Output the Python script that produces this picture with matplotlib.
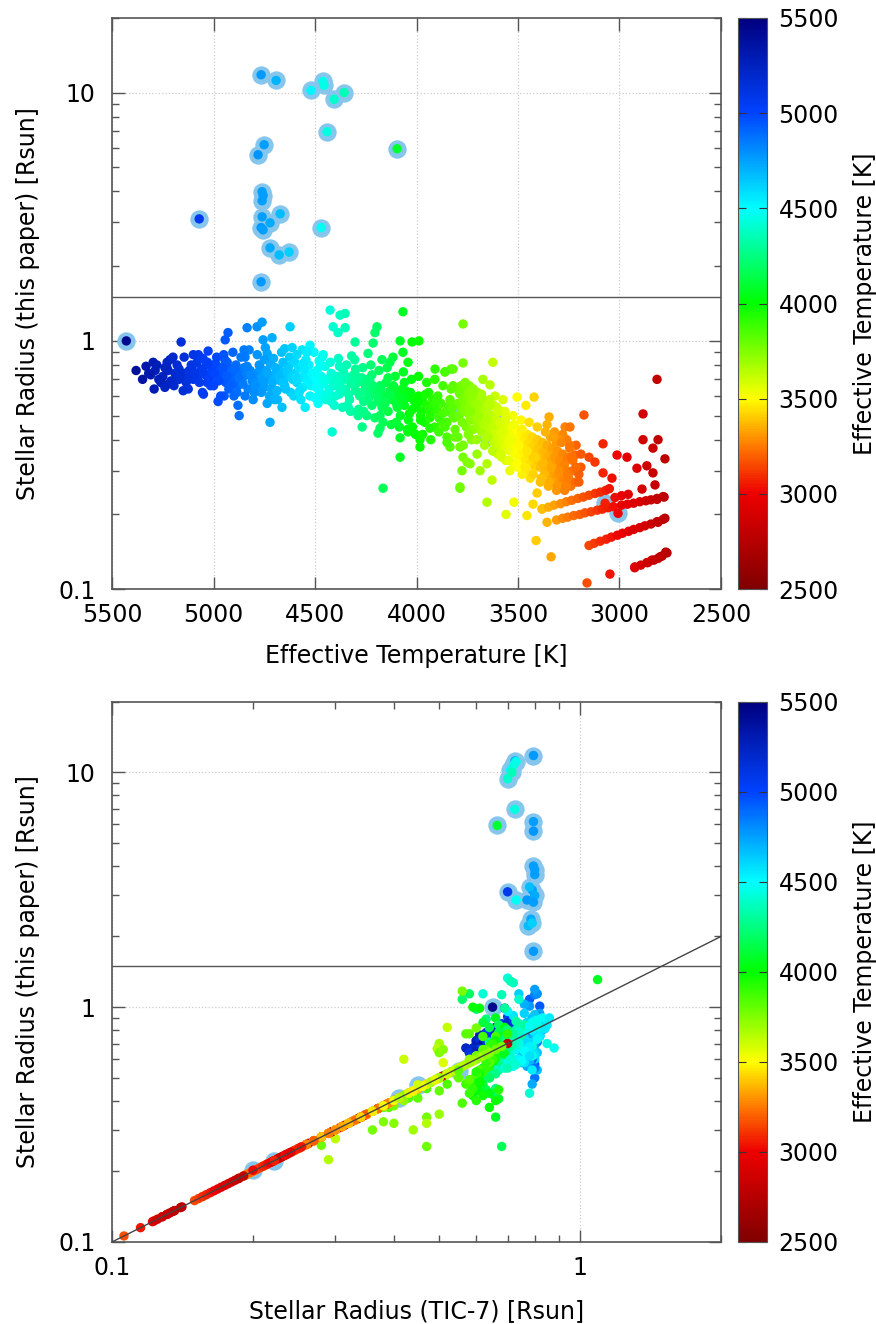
import numpy as np
import matplotlib
matplotlib.use("Agg")
import matplotlib.pyplot as plt
from matplotlib.colors import Normalize, LinearSegmentedColormap
from matplotlib.ticker import NullFormatter

# Hot dwarfs (Teff >= ~4600 K): Teff, radius (this paper), radius (TIC-7)
teff_hot = [5382, 5333, 5298, 5288, 5293, 5229, 5224, 5224, 5200, 5180,
            5160, 5155, 5135, 5106, 5081, 5076, 5052, 5027, 5032, 5002,
            5250, 5190, 5170, 5140, 5120, 5100, 5090, 5060, 5040, 5020,
            5010, 4990, 4980, 4970, 4960, 4950, 4940, 4930, 4920, 4910,
            4900, 4890, 4880, 4870, 4860, 4850, 4840, 4830, 4820, 4810,
            4978, 4948, 4943, 4929, 4933, 4909, 4904, 4874, 4845, 4835,
            4820, 4786, 4761, 4756, 4736, 4722, 4736, 4712, 4707, 4663,
            4800, 4790, 4780, 4770, 4760, 4750, 4740, 4730, 4720, 4710,
            4700, 4690, 4680, 4670, 4660, 4650, 4640, 4630, 4620, 4610,
            5310, 5270, 5230, 5210, 5170, 5130, 5110, 5070, 5050, 5030,
            4995, 4975, 4955, 4935, 4915, 4895, 4875, 4855, 4835, 4815,
            4795, 4775, 4755, 4735, 4715, 4695, 4675, 4655, 4635, 4615,
            5350, 5320, 5280, 5260, 5240, 5215, 5195, 5165, 5145, 5125,
            5095, 5075, 5055, 5035, 5015, 4985, 4965, 4945, 4925, 4905,
            4885, 4865, 4845, 4825, 4805, 4785, 4765, 4745, 4725, 4705,
            4685, 4665, 4645, 4625, 4605, 5200, 5150, 5100, 5050, 5000,
            4950, 4900, 4850, 4800, 4750, 4700, 4650, 4600, 5240, 4880]
r_hot = [0.76, 0.79, 0.82, 0.76, 0.64, 0.82, 0.76, 0.67, 0.67, 0.80,
         0.99, 0.72, 0.68, 0.78, 0.82, 0.72, 0.85, 0.91, 0.68, 0.79,
         0.72, 0.74, 0.70, 0.74, 0.76, 0.70, 0.74, 0.77, 0.73, 0.71,
         0.75, 0.81, 0.70, 0.76, 0.73, 0.79, 0.68, 0.74, 0.71, 0.77,
         0.72, 0.80, 0.66, 0.75, 0.70, 0.78, 0.73, 0.64, 0.76, 0.69,
         0.57, 0.60, 1.01, 1.08, 0.82, 0.75, 0.68, 0.50, 0.86, 1.13,
         0.75, 1.14, 1.19, 1.01, 0.89, 0.47, 0.56, 1.03, 0.72, 0.54,
         0.70, 0.74, 0.67, 0.78, 0.72, 0.65, 0.76, 0.70, 0.81, 0.68,
         0.73, 0.63, 0.77, 0.69, 0.75, 0.66, 0.72, 0.79, 0.62, 0.70,
         0.73, 0.70, 0.78, 0.69, 0.77, 0.71, 0.80, 0.68, 0.75, 0.82,
         0.74, 0.69, 0.78, 0.72, 0.66, 0.77, 0.71, 0.67, 0.79, 0.73,
         0.66, 0.80, 0.69, 0.74, 0.64, 0.78, 0.72, 0.68, 0.76, 0.71,
         0.70, 0.74, 0.80, 0.68, 0.78, 0.84, 0.66, 0.72, 0.86, 0.64,
         0.74, 0.88, 0.62, 0.80, 0.66, 0.86, 0.60, 0.84, 0.64, 0.90,
         0.62, 0.86, 0.60, 0.92, 0.58, 0.88, 0.62, 0.94, 0.60, 0.85,
         0.58, 0.90, 0.64, 0.86, 0.60, 0.86, 0.63, 0.88, 0.61, 0.66,
         0.88, 0.60, 0.92, 0.62, 0.84, 0.58, 0.93, 0.82, 0.65, 0.55]
tic_hot = [0.62, 0.64, 0.66, 0.61, 0.58, 0.67, 0.63, 0.57, 0.59, 0.65,
           0.69, 0.60, 0.61, 0.63, 0.66, 0.62, 0.68, 0.70, 0.60, 0.64,
           0.60, 0.62, 0.64, 0.66, 0.67, 0.63, 0.69, 0.70, 0.65, 0.61,
           0.68, 0.71, 0.62, 0.66, 0.64, 0.70, 0.60, 0.67, 0.63, 0.69,
           0.76, 0.80, 0.74, 0.78, 0.77, 0.81, 0.79, 0.75, 0.82, 0.77,
           0.80, 0.79, 0.82, 0.78, 0.76, 0.81, 0.78, 0.80, 0.83, 0.80,
           0.79, 0.81, 0.80, 0.78, 0.82, 0.79, 0.77, 0.76, 0.80, 0.81,
           0.80, 0.78, 0.77, 0.82, 0.79, 0.75, 0.81, 0.78, 0.84, 0.76,
           0.79, 0.76, 0.80, 0.78, 0.82, 0.77, 0.79, 0.81, 0.75, 0.78,
           0.63, 0.60, 0.66, 0.62, 0.68, 0.61, 0.70, 0.64, 0.67, 0.71,
           0.72, 0.66, 0.74, 0.70, 0.77, 0.79, 0.81, 0.76, 0.80, 0.78,
           0.77, 0.83, 0.80, 0.79, 0.76, 0.82, 0.80, 0.78, 0.81, 0.79,
           0.62, 0.65, 0.69, 0.60, 0.68, 0.71, 0.59, 0.63, 0.72, 0.58,
           0.64, 0.71, 0.59, 0.69, 0.61, 0.84, 0.78, 0.82, 0.76, 0.80,
           0.79, 0.83, 0.77, 0.81, 0.76, 0.80, 0.78, 0.82, 0.77, 0.80,
           0.75, 0.79, 0.81, 0.77, 0.80, 0.70, 0.60, 0.72, 0.59, 0.62,
           0.83, 0.79, 0.81, 0.76, 0.82, 0.78, 0.80, 0.77, 0.60, 0.80]

# Intermediate dwarfs (4000-4700 K)
teff_mid = [4687, 4658, 4623, 4613, 4564, 4549, 4525, 4490, 4461, 4426,
            4600, 4590, 4580, 4570, 4560, 4550, 4540, 4530, 4520, 4510,
            4500, 4490, 4480, 4470, 4460, 4450, 4440, 4430, 4420, 4410,
            4416, 4377, 4352, 4411, 4387, 4352, 4303, 4268, 4288, 4337,
            4400, 4390, 4380, 4370, 4360, 4350, 4340, 4330, 4320, 4310,
            4300, 4290, 4280, 4270, 4260, 4250, 4240, 4230, 4220, 4210,
            4200, 4190, 4180, 4170, 4160, 4150, 4140, 4130, 4120, 4110,
            4100, 4090, 4080, 4070, 4060, 4050, 4040, 4030, 4020, 4010,
            4067, 4195, 4205, 4214, 4239, 4081, 4022, 3988, 4067, 4116,
            4131, 4170, 4042, 4081, 4180, 4190, 4081, 4042, 4165, 3983,
            4595, 4575, 4555, 4535, 4515, 4495, 4475, 4455, 4435, 4415,
            4395, 4375, 4355, 4335, 4315, 4295, 4275, 4255, 4235, 4215,
            4195, 4175, 4155, 4135, 4115, 4095, 4075, 4055, 4035, 4015,
            4590, 4570, 4545, 4525, 4505, 4485, 4465, 4445, 4425, 4405,
            4385, 4365, 4345, 4325, 4305, 4285, 4265, 4245, 4225, 4205,
            4185, 4165, 4145, 4125, 4105, 4085, 4065, 4045, 4025, 4005,
            4580, 4540, 4500, 4460, 4420, 4380, 4340, 4300, 4260, 4220,
            4180, 4140, 4100, 4060, 4020, 4560, 4480, 4400, 4320, 4240]
r_mid = [0.63, 0.82, 1.14, 0.94, 0.92, 0.54, 0.96, 0.68, 0.60, 1.33,
         0.74, 0.68, 0.78, 0.71, 0.65, 0.75, 0.70, 0.80, 0.66, 0.73,
         0.69, 0.76, 0.63, 0.72, 0.67, 0.79, 0.70, 0.64, 0.74, 0.68,
         0.43, 1.27, 1.29, 1.14, 1.08, 1.13, 0.99, 0.45, 0.50, 0.54,
         0.66, 0.72, 0.61, 0.69, 0.75, 0.64, 0.70, 0.58, 0.67, 0.73,
         0.63, 0.68, 0.60, 0.71, 0.57, 0.65, 0.62, 0.69, 0.55, 0.64,
         0.62, 0.57, 0.66, 0.54, 0.60, 0.68, 0.52, 0.63, 0.58, 0.65,
         0.56, 0.61, 0.50, 0.64, 0.55, 0.59, 0.48, 0.62, 0.53, 0.57,
         1.31, 1.14, 1.08, 0.98, 0.89, 1.00, 0.99, 1.00, 0.90, 0.86,
         0.82, 0.84, 0.82, 0.34, 0.445, 0.425, 0.407, 0.43, 0.255, 0.40,
         0.71, 0.63, 0.77, 0.68, 0.74, 0.65, 0.79, 0.70, 0.62, 0.73,
         0.70, 0.64, 0.73, 0.61, 0.68, 0.72, 0.62, 0.67, 0.59, 0.66,
         0.60, 0.64, 0.56, 0.61, 0.66, 0.54, 0.59, 0.63, 0.51, 0.58,
         0.88, 0.58, 0.84, 0.60, 0.90, 0.56, 0.86, 0.58, 0.82, 0.55,
         0.85, 0.54, 0.80, 0.52, 0.84, 0.53, 0.78, 0.50, 0.80, 0.49,
         0.76, 0.47, 0.78, 0.46, 0.72, 0.45, 0.75, 0.44, 0.70, 0.42,
         0.62, 0.90, 0.59, 0.88, 0.57, 0.79, 0.55, 0.77, 0.52, 0.73,
         0.50, 0.71, 0.47, 0.68, 0.45, 0.81, 0.83, 0.60, 0.87, 0.70]
tic_mid = [0.78, 0.80, 0.74, 0.76, 0.72, 0.79, 0.70, 0.75, 0.73, 0.70,
           0.76, 0.78, 0.80, 0.74, 0.77, 0.82, 0.75, 0.79, 0.73, 0.81,
           0.74, 0.70, 0.77, 0.72, 0.88, 0.76, 0.85, 0.71, 0.73, 0.79,
           0.78, 0.72, 0.71, 0.62, 0.74, 0.68, 0.69, 0.66, 0.64, 0.67,
           0.70, 0.72, 0.68, 0.74, 0.71, 0.66, 0.73, 0.69, 0.67, 0.75,
           0.68, 0.66, 0.70, 0.64, 0.67, 0.69, 0.65, 0.71, 0.63, 0.68,
           0.66, 0.64, 0.69, 0.62, 0.65, 0.70, 0.61, 0.67, 0.64, 0.68,
           0.63, 0.66, 0.60, 0.68, 0.62, 0.65, 0.59, 0.67, 0.61, 0.64,
           1.09, 0.58, 0.56, 0.60, 0.63, 0.65, 0.61, 0.59, 0.66, 0.62,
           0.64, 0.67, 0.69, 0.66, 0.63, 0.65, 0.67, 0.64, 0.68, 0.66,
           0.77, 0.80, 0.74, 0.78, 0.72, 0.76, 0.70, 0.74, 0.79, 0.72,
           0.73, 0.70, 0.72, 0.68, 0.71, 0.69, 0.67, 0.70, 0.66, 0.68,
           0.66, 0.68, 0.63, 0.65, 0.67, 0.62, 0.64, 0.69, 0.60, 0.65,
           0.80, 0.76, 0.85, 0.74, 0.83, 0.72, 0.79, 0.70, 0.82, 0.69,
           0.74, 0.66, 0.73, 0.65, 0.76, 0.64, 0.71, 0.63, 0.70, 0.62,
           0.68, 0.61, 0.67, 0.62, 0.66, 0.60, 0.68, 0.61, 0.65, 0.59,
           0.78, 0.86, 0.75, 0.81, 0.73, 0.74, 0.70, 0.72, 0.66, 0.69,
           0.64, 0.67, 0.62, 0.66, 0.60, 0.84, 0.78, 0.71, 0.73, 0.68]

# Late K / early M dwarfs that sit off the 1:1 line
teff_km = [4000, 3990, 3980, 3970, 3960, 3950, 3940, 3930, 3920, 3910,
           3900, 3890, 3880, 3870, 3860, 3850, 3840, 3830, 3820, 3810,
           3983, 3934, 3909, 3850, 3835, 3796, 3786, 3771, 3771, 3786,
           3624, 3673, 3638, 3613, 3574, 3820, 3860, 3760, 3740, 3702,
           3653, 3687, 3736, 3776, 3751, 3628, 3653, 3786, 3771, 3700,
           3995, 3975, 3955, 3935, 3915, 3895, 3875, 3855, 3835, 3815,
           3990, 3970, 3950, 3930, 3910, 3890, 3870, 3850, 3830, 3810,
           3790, 3770, 3750, 3730, 3710, 3980, 3940, 3900, 3860, 3820]
r_km = [0.54, 0.60, 0.50, 0.57, 0.47, 0.55, 0.62, 0.51, 0.58, 0.45,
        0.53, 0.49, 0.56, 0.51, 0.75, 0.47, 0.54, 0.77, 0.50, 0.44,
        0.374, 0.445, 0.77, 0.41, 0.374, 0.41, 0.374, 0.34, 0.815, 0.255,
        0.82, 0.70, 0.665, 0.60, 0.58, 0.77, 0.75, 0.64, 0.66, 0.35,
        0.32, 0.30, 0.32, 0.30, 0.325, 0.275, 0.224, 0.258, 1.17, 0.62,
        0.57, 0.52, 0.61, 0.49, 0.55, 0.60, 0.47, 0.52, 0.58, 0.49,
        0.72, 0.42, 0.68, 0.40, 0.70, 0.43, 0.66, 0.39, 0.64, 0.41,
        0.62, 0.38, 0.65, 0.40, 0.60, 0.48, 0.53, 0.58, 0.45, 0.66]
tic_km = [0.62, 0.65, 0.60, 0.64, 0.58, 0.63, 0.66, 0.61, 0.64, 0.59,
          0.62, 0.58, 0.64, 0.60, 0.66, 0.52, 0.61, 0.57, 0.55, 0.50,
          0.64, 0.67, 0.70, 0.43, 0.39, 0.42, 0.38, 0.47, 0.60, 0.47,
          0.52, 0.50, 0.495, 0.42, 0.51, 0.58, 0.62, 0.50, 0.51, 0.50,
          0.47, 0.44, 0.40, 0.36, 0.38, 0.30, 0.29, 0.28, 0.56, 0.60,
          0.64, 0.61, 0.66, 0.59, 0.63, 0.65, 0.57, 0.60, 0.64, 0.58,
          0.66, 0.62, 0.64, 0.60, 0.65, 0.58, 0.63, 0.56, 0.62, 0.45,
          0.60, 0.40, 0.63, 0.42, 0.58, 0.61, 0.60, 0.63, 0.47, 0.62]

# M dwarfs: TIC-7 radius equals the radius from this paper (on the 1:1 line)
teff_m = [3795, 3790, 3785, 3780, 3775, 3770, 3765, 3760, 3755, 3750,
          3745, 3740, 3735, 3730, 3725, 3720, 3715, 3710, 3705, 3700,
          3695, 3690, 3685, 3680, 3675, 3670, 3665, 3660, 3655, 3650,
          3645, 3640, 3635, 3630, 3625, 3620, 3615, 3610, 3605, 3600,
          3595, 3590, 3585, 3580, 3575, 3570, 3565, 3560, 3555, 3550,
          3545, 3540, 3535, 3530, 3525, 3520, 3515, 3510, 3505, 3500,
          3495, 3490, 3485, 3480, 3475, 3470, 3465, 3460, 3455, 3450,
          3445, 3440, 3435, 3430, 3425, 3420, 3415, 3410, 3405, 3400,
          3395, 3390, 3385, 3380, 3375, 3370, 3365, 3360, 3355, 3350,
          3345, 3340, 3335, 3330, 3325, 3320, 3315, 3310, 3305, 3300,
          3295, 3290, 3285, 3280, 3275, 3270, 3265, 3260, 3255, 3250,
          3505, 3421, 3461, 3347, 3175, 3268, 3244, 3357, 3214, 3219,
          3081, 3012, 2963, 3150, 3121, 3037, 3081, 2884, 2884, 2810,
          2835, 2776, 2914, 2865, 2835, 2825, 2889, 2780, 2815, 2815,
          3411, 3337, 3160, 3456, 3559, 3520, 3426, 3357, 3406, 3382,
          3047, 2924, 2865, 2840, 2810, 2790, 2766, 2776, 2810, 3290,
          3390, 3370, 3350, 3330, 3310, 3290, 3270, 3240, 3230, 3215,
          3440, 3460, 3480, 3500, 3520, 3540, 3560, 3580, 3600, 3620,
          3200, 3190, 3235, 3245, 3260, 3280, 3300, 3320, 3340, 3310,
          3780, 3760, 3740, 3720, 3700, 3680, 3660, 3640, 3620, 3580,
          3745, 3725, 3705, 3685, 3665, 3645, 3625, 3605, 3585, 3565,
          3545, 3525, 3505, 3485, 3465, 3445, 3425, 3405, 3385, 3365,
          3345, 3325, 3305, 3285, 3265, 3245, 3230, 3215, 3200, 3190,
          3735, 3695, 3655, 3615, 3575, 3535, 3495, 3455, 3415, 3375,
          3335, 3295, 3255, 3720, 3680, 3640, 3600, 3560, 3520, 3480,
          3380, 3350, 3322, 3290, 3262, 3235, 3205, 3178, 3150, 3120,
          3095, 3068, 3050, 3310, 3280, 3255, 3225, 3195, 3170, 3140,
          3110, 3085, 3055, 3030, 2990, 2960, 2930, 2900, 2870, 2845,
          2815, 2785, 3150, 3125, 3095, 3065, 3040, 3010, 2985, 2955,
          2930, 2900, 2875, 2845, 2815, 2785, 2925, 2895, 2860, 2830,
          2800, 2772, 3022, 2990, 2957]
r_m = [0.56, 0.50, 0.61, 0.53, 0.47, 0.58, 0.52, 0.55, 0.45, 0.60,
       0.51, 0.54, 0.48, 0.57, 0.50, 0.44, 0.53, 0.49, 0.56, 0.46,
       0.52, 0.48, 0.55, 0.43, 0.50, 0.46, 0.53, 0.41, 0.49, 0.45,
       0.51, 0.42, 0.47, 0.44, 0.50, 0.39, 0.46, 0.43, 0.48, 0.41,
       0.45, 0.38, 0.43, 0.47, 0.40, 0.44, 0.37, 0.42, 0.46, 0.39,
       0.43, 0.36, 0.41, 0.45, 0.38, 0.42, 0.35, 0.40, 0.44, 0.37,
       0.41, 0.34, 0.39, 0.43, 0.36, 0.40, 0.33, 0.38, 0.42, 0.35,
       0.39, 0.32, 0.37, 0.41, 0.34, 0.38, 0.31, 0.36, 0.40, 0.33,
       0.37, 0.31, 0.35, 0.39, 0.32, 0.36, 0.30, 0.34, 0.38, 0.31,
       0.35, 0.29, 0.33, 0.37, 0.30, 0.34, 0.28, 0.32, 0.36, 0.29,
       0.33, 0.27, 0.31, 0.35, 0.28, 0.32, 0.27, 0.30, 0.34, 0.28,
       0.594, 0.594, 0.55, 0.494, 0.503, 0.45, 0.45, 0.46, 0.38, 0.347,
       0.385, 0.347, 0.34, 0.34, 0.325, 0.28, 0.294, 0.508, 0.40, 0.40,
       0.37, 0.335, 0.307, 0.314, 0.294, 0.263, 0.253, 0.235, 0.23, 0.70,
       0.157, 0.135, 0.106, 0.198, 0.20, 0.224, 0.22, 0.186, 0.244, 0.21,
       0.115, 0.123, 0.128, 0.131, 0.133, 0.136, 0.14, 0.193, 0.186, 0.26,
       0.27, 0.29, 0.26, 0.27, 0.25, 0.26, 0.25, 0.26, 0.30, 0.27,
       0.28, 0.30, 0.29, 0.31, 0.32, 0.30, 0.33, 0.34, 0.35, 0.36,
       0.29, 0.31, 0.34, 0.38, 0.40, 0.42, 0.40, 0.43, 0.41, 0.39,
       0.66, 0.68, 0.62, 0.64, 0.59, 0.61, 0.57, 0.58, 0.55, 0.52,
       0.42, 0.60, 0.40, 0.58, 0.38, 0.56, 0.36, 0.54, 0.35, 0.52,
       0.33, 0.50, 0.32, 0.48, 0.31, 0.47, 0.29, 0.45, 0.28, 0.43,
       0.27, 0.41, 0.26, 0.39, 0.26, 0.37, 0.33, 0.31, 0.27, 0.35,
       0.52, 0.50, 0.48, 0.46, 0.43, 0.40, 0.38, 0.36, 0.34, 0.32,
       0.31, 0.30, 0.29, 0.63, 0.59, 0.55, 0.52, 0.49, 0.46, 0.44,
       0.211, 0.214, 0.218, 0.221, 0.225, 0.228, 0.232, 0.235, 0.239, 0.243,
       0.246, 0.250, 0.254, 0.190, 0.193, 0.195, 0.198, 0.200, 0.203, 0.205,
       0.208, 0.210, 0.213, 0.215, 0.218, 0.220, 0.222, 0.225, 0.227, 0.229,
       0.232, 0.236, 0.150, 0.153, 0.156, 0.159, 0.162, 0.165, 0.168, 0.171,
       0.174, 0.177, 0.180, 0.183, 0.187, 0.191, 0.122, 0.125, 0.128, 0.131,
       0.135, 0.141, 0.234, 0.238, 0.241]

# Giants and other flagged stars (drawn with a light blue halo)
teff_flag = [4766, 4692, 4520, 4461, 4456, 4406, 4357, 4441, 4096, 4751,
             4781, 4761, 4756, 4761, 5071, 4761, 4722, 4672, 4766, 4756,
             4470, 4722, 4677, 4628, 4766, 5430, 3071, 3007, 3825, 3589,
             3650]
r_flag = [11.8, 11.2, 10.2, 11.1, 10.7, 9.4, 10.0, 6.96, 5.94, 6.17,
          5.62, 3.99, 3.85, 3.67, 3.10, 3.16, 2.99, 3.25, 2.86, 2.80,
          2.86, 2.37, 2.22, 2.28, 1.73, 1.00, 0.222, 0.202, 0.537, 0.467,
          0.41]
tic_flag = [0.795, 0.726, 0.71, 0.73, 0.72, 0.70, 0.715, 0.725, 0.665, 0.795,
            0.795, 0.795, 0.80, 0.80, 0.70, 0.79, 0.80, 0.78, 0.77, 0.795,
            0.73, 0.785, 0.775, 0.79, 0.795, 0.65, 0.222, 0.20, 0.55, 0.45,
            0.41]

teff_all = np.concatenate([teff_hot, teff_mid, teff_km, teff_m, teff_flag])
r_all = np.concatenate([r_hot, r_mid, r_km, r_m, r_flag])
tic_all = np.concatenate([tic_hot, tic_mid, tic_km, r_m, tic_flag])

plt.rcParams['font.family'] = 'DejaVu Sans'
plt.rcParams['font.size'] = 17

# rainbow palette as in the original figure (dark red -> dark blue)
cmap = LinearSegmentedColormap.from_list('teff', [
    (0.0, '#800000'), (1 / 6, '#ee0000'), (0.25, '#ff7a00'), (1 / 3, '#ffff00'),
    (0.5, '#00ff00'), (2 / 3, '#00ffff'), (5 / 6, '#0044ff'), (1.0, '#000080')])
norm = Normalize(vmin=2500, vmax=5500)
halo_col = '#86c6ec'
spine_col = '#555555'
dot_s = 46
halo_s = 175

fig = plt.figure(figsize=(8.76, 13.24), dpi=100)
ax1 = fig.add_axes([0.128, 0.555, 0.695, 0.4315])
cax1 = fig.add_axes([0.842, 0.555, 0.034, 0.4315])
ax2 = fig.add_axes([0.128, 0.062, 0.695, 0.408])
cax2 = fig.add_axes([0.842, 0.062, 0.034, 0.408])


def style(ax):
    ax.set_yscale('log')
    ax.set_ylim(0.1, 20)
    ax.set_yticks([0.1, 1, 10], labels=['0.1', '1', '10'])
    ax.yaxis.set_minor_formatter(NullFormatter())
    ax.tick_params(which='both', direction='in', top=True, right=True, color=spine_col)
    ax.tick_params(which='major', length=9, width=1)
    ax.tick_params(which='minor', length=5, width=1)
    ax.tick_params(axis='x', pad=10)
    ax.tick_params(axis='y', pad=12)
    for sp in ax.spines.values():
        sp.set_color(spine_col)
        sp.set_linewidth(1.2)
    ax.grid(True, which='major', linestyle=':', color='#cccccc', linewidth=0.9)
    ax.set_axisbelow(True)
    ax.axhline(1.5, color=spine_col, linewidth=1, zorder=1)
    ax.set_ylabel('Stellar Radius (this paper) [Rsun]')
    ax.yaxis.set_label_coords(-0.118, 0.5)


# top panel: radius vs effective temperature
style(ax1)
ax1.scatter(teff_flag, r_flag, s=halo_s, color=halo_col, linewidths=0, zorder=2)
sc1 = ax1.scatter(teff_all, r_all, c=teff_all, cmap=cmap, norm=norm, s=dot_s,
                  linewidths=0, zorder=3)
ax1.set_xlim(5500, 2500)
ax1.set_xticks([5500, 5000, 4500, 4000, 3500, 3000, 2500])
ax1.set_xlabel('Effective Temperature [K]', labelpad=12)

# bottom panel: radius vs TIC-7 radius
style(ax2)
ax2.set_xscale('log')
ax2.set_xlim(0.1, 2)
ax2.set_xticks([0.1, 1], labels=['0.1', '1'])
ax2.xaxis.set_minor_formatter(NullFormatter())
ax2.plot([0.1, 2], [0.1, 2], color='#444444', linewidth=1, zorder=4)
ax2.scatter(tic_flag, r_flag, s=halo_s, color=halo_col, linewidths=0, zorder=2)
sc2 = ax2.scatter(tic_all, r_all, c=teff_all, cmap=cmap, norm=norm, s=dot_s,
                  linewidths=0, zorder=3)
ax2.set_xlabel('Stellar Radius (TIC-7) [Rsun]', labelpad=14)

for sc, cax in [(sc1, cax1), (sc2, cax2)]:
    cb = fig.colorbar(sc, cax=cax)
    cb.set_ticks([2500, 3000, 3500, 4000, 4500, 5000, 5500])
    cb.set_label('Effective Temperature [K]', labelpad=10)
    cb.outline.set_edgecolor(spine_col)
    cb.ax.tick_params(direction='in', length=6, left=True, right=True,
                      color='#333333', pad=8)

fig.savefig('out.png', dpi=100)
